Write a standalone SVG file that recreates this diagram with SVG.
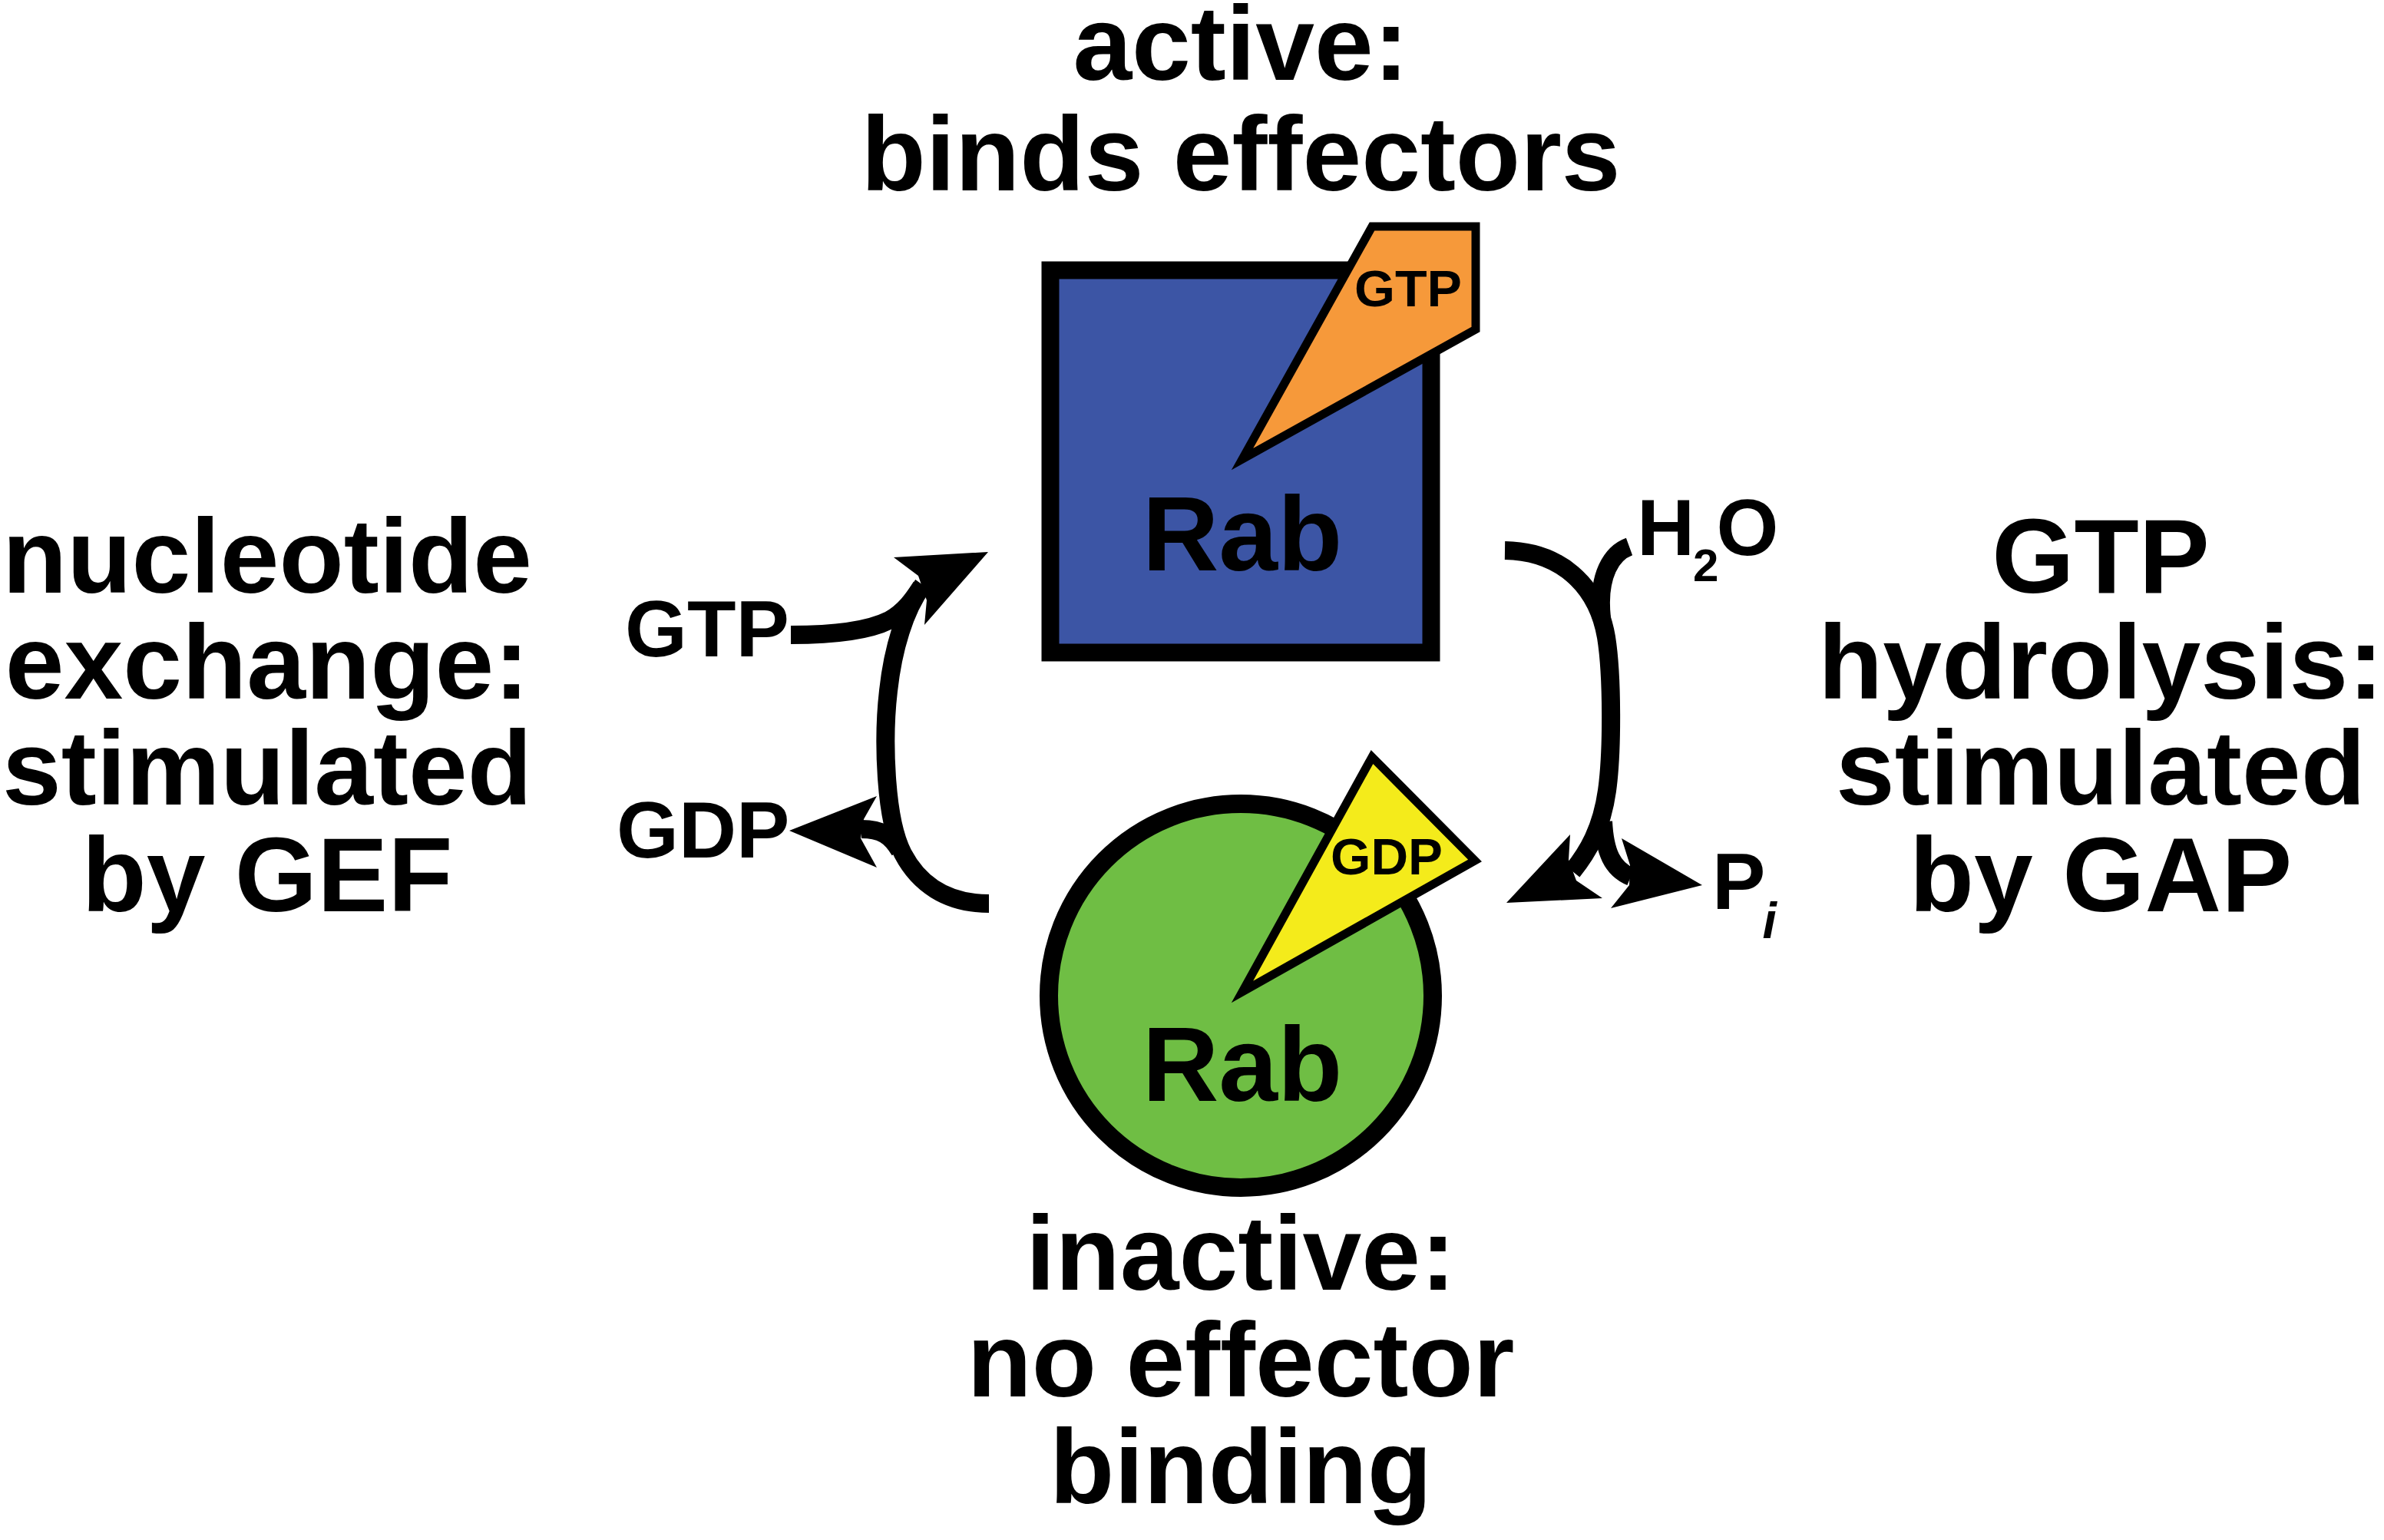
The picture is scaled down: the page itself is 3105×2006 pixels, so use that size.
<svg xmlns="http://www.w3.org/2000/svg" width="3105" height="2006" viewBox="0 0 3105 2006">
<style>
.t{font-family:"Liberation Sans",Arial,Helvetica,sans-serif;font-weight:bold;fill:#000}
.big{font-size:138px;text-anchor:middle}
.mid{font-size:104px}
.rab{font-size:138px;text-anchor:middle}
.nuc{font-size:66px}
.ln{fill:none;stroke:#000;stroke-width:24}
.ah{fill:#000;stroke:none}
</style>
<rect width="3105" height="2006" fill="#fff"/>
<g id="connectors">
  <path class="ln" d="M1288,1177 C1232,1177 1196,1150 1176,1112 C1152,1066 1150,960 1157,900 C1163,845 1178,795 1202,762"/>
  <path class="ln" d="M1030,827 C1080,827 1130,822 1158,808 C1178,797 1190,780 1200,764"/>
  <polygon class="ah" points="1287,719 1164,726 1196,750 1207,782 1204,814"/>
  <path class="ln" d="M1172,1108 C1160,1088 1148,1080 1122,1080"/>
  <polygon class="ah" points="1028,1082 1142,1037 1125,1067 1121,1092 1142,1130"/>
  <path class="ln" d="M1960,717 C2030,718 2080,760 2092,830 C2100,880 2100,980 2093,1030 C2086,1080 2068,1110 2048,1135"/>
  <path class="ln" d="M2122,712 C2100,720 2080,748 2086,805"/>
  <polygon class="ah" points="1962,1176 2045,1087 2043,1120 2053,1147 2087,1170"/>
  <path class="ln" d="M2088,1070 C2090,1110 2100,1132 2124,1142"/>
  <polygon class="ah" points="2217,1153 2112,1092 2123,1127 2122,1153 2098,1183"/>
</g>
<g id="node-active">
  <rect x="1368" y="352" width="496" height="498" fill="#3C55A5" stroke="#000" stroke-width="23"/>
  <polygon points="1787,295 1922,295 1922,429 1618,598" fill="#F6993A" stroke="#000" stroke-width="11"/>
  <text class="t nuc" x="1764" y="399" textLength="140" lengthAdjust="spacingAndGlyphs">GTP</text>
  <text class="t rab" x="1618" y="743">Rab</text>
</g>
<g id="node-inactive">
  <circle cx="1616" cy="1297" r="250" fill="#6FBE44" stroke="#000" stroke-width="24"/>
  <polygon points="1787,986 1921,1121 1618,1292" fill="#F4EB1B" stroke="#000" stroke-width="11"/>
  <text class="t nuc" x="1733" y="1139" textLength="146" lengthAdjust="spacingAndGlyphs">GDP</text>
  <text class="t rab" x="1618" y="1434">Rab</text>
</g>
<g id="label-active">
  <text class="t big" x="1616" y="104">active:</text>
  <text class="t big" x="1616" y="248">binds effectors</text>
</g>
<g id="label-inactive">
  <text class="t big" x="1616" y="1680">inactive:</text>
  <text class="t big" x="1616" y="1819">no effector</text>
  <text class="t big" x="1616" y="1958">binding</text>
</g>
<g id="label-gef">
  <text class="t big" x="348" y="772">nucleotide</text>
  <text class="t big" x="348" y="910">exchange:</text>
  <text class="t big" x="348" y="1048">stimulated</text>
  <text class="t big" x="348" y="1187">by GEF</text>
</g>
<g id="label-gap">
  <text class="t big" x="2736" y="772">GTP</text>
  <text class="t big" x="2736" y="910">hydrolysis:</text>
  <text class="t big" x="2736" y="1048">stimulated</text>
  <text class="t big" x="2736" y="1187">by GAP</text>
</g>
<g id="label-gtp-in"><text class="t mid" x="814" y="855">GTP</text></g>
<g id="label-gdp-out"><text class="t mid" x="803" y="1117">GDP</text></g>
<g id="label-h2o"><text class="t mid" x="2132" y="723" font-size="100">H<tspan font-size="60" dy="34" dx="-2">2</tspan><tspan dy="-34" dx="-3">O</tspan></text></g>
<g id="label-pi"><text class="t mid" x="2230" y="1184">P<tspan font-size="66" font-style="italic" dy="38" dx="-4">i</tspan></text></g>
</svg>
